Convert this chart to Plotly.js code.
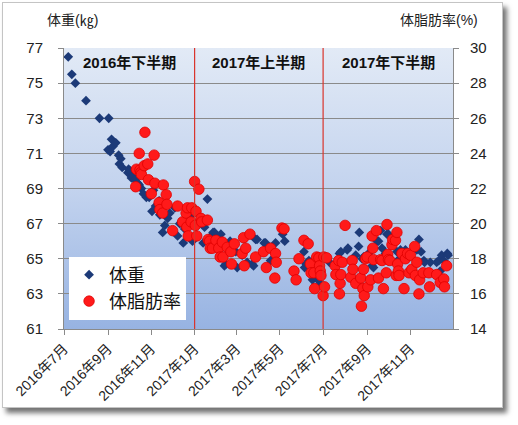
<!DOCTYPE html>
<html>
<head>
<meta charset="utf-8">
<script src="https://cdn.plot.ly/plotly-3.0.1.min.js"></script>
<style>
  html, body { margin:0; padding:0; background:#ffffff; }
  #frame { position:absolute; left:2px; top:2px; width:499px; height:404px;
           border:1px solid #c4c4c4; background:#ffffff;
           box-shadow: 4px 5px 5px rgba(0,0,0,0.55); }
  #chart { position:absolute; left:0; top:0; width:518px; height:425px; }
</style>
</head>
<body>
<div id="frame"></div>
<div id="chart"></div>
<script>
// ---- data ----
const weightName = '体重';
const fatName = '体脂肪率';

const weightDates = [
  '2016-07-07','2016-07-12','2016-07-17','2016-08-01','2016-08-20',
  '2016-09-02','2016-09-01','2016-09-04','2016-09-06','2016-09-08','2016-09-12','2016-09-16','2016-09-17','2016-09-19','2016-09-21','2016-09-29','2016-09-30',
  '2016-10-02','2016-10-04','2016-10-05','2016-10-09','2016-10-13','2016-10-15','2016-10-18','2016-10-21','2016-10-25','2016-10-29',
  '2016-11-02','2016-11-04','2016-11-07','2016-11-12','2016-11-13','2016-11-17','2016-11-20','2016-11-24','2016-11-27',
  '2016-12-04','2016-12-08','2016-12-11','2016-12-16','2016-12-18','2016-12-25','2016-12-29',
  '2017-01-08','2017-01-13','2017-01-15','2017-01-19','2017-01-22','2017-01-27','2017-01-29',
  '2017-02-05','2017-02-06','2017-02-07','2017-02-12','2017-02-14','2017-02-20','2017-02-28',
  '2017-03-02','2017-03-09','2017-03-16','2017-03-23','2017-03-25','2017-03-28','2017-03-30',
  '2017-04-09','2017-04-11','2017-04-18','2017-04-25',
  '2017-05-05','2017-05-08',
  '2017-06-04','2017-06-05','2017-06-07','2017-06-09','2017-06-11','2017-06-16','2017-06-21','2017-06-22','2017-06-26','2017-06-28',
  '2017-07-10','2017-07-24','2017-07-26',
  '2017-08-04','2017-08-05','2017-08-16','2017-08-20','2017-08-21','2017-08-25','2017-08-27',
  '2017-09-03','2017-09-08','2017-09-10','2017-09-15','2017-09-17','2017-09-20','2017-09-22','2017-09-27','2017-09-29',
  '2017-10-01','2017-10-06','2017-10-13','2017-10-14','2017-10-18','2017-10-25','2017-10-30',
  '2017-11-10','2017-11-13','2017-11-16','2017-11-20','2017-11-21','2017-11-29',
  '2017-12-08','2017-12-11','2017-12-13','2017-12-15','2017-12-18','2017-12-23','2017-12-24'
];
const weightValues = [
  76.5,75.5,75.0,74.0,73.0,
  73.0,71.2,71.1,71.8,71.4,71.6,70.9,70.4,70.7,70.2,69.9,70.1,
  70.0,69.6,69.7,69.5,69.3,69.2,69.0,68.7,68.5,68.5,
  67.7,68.9,68.0,68.3,67.5,66.5,66.9,67.3,67.6,
  67.9,66.3,67.0,65.9,66.7,67.4,66.0,
  67.1,65.9,66.8,68.4,66.2,66.5,66.5,
  65.6,65.2,66.4,64.6,64.7,66.0,65.4,
  64.5,65.2,64.8,64.7,64.6,66.1,66.1,
  65.9,65.9,64.9,65.9,
  66.4,66.0,
  65.4,64.5,64.7,64.5,64.9,63.8,64.0,63.9,63.7,63.6,
  64.8,65.3,65.4,
  65.5,65.6,65.2,65.7,66.5,65.0,65.1,
  65.3,64.6,64.5,66.0,66.0,66.6,65.6,65.3,66.4,
  66.4,65.8,65.4,64.9,65.5,65.5,65.2,
  65.5,66.1,65.4,64.9,64.8,64.8,
  64.8,64.9,64.3,65.2,64.9,65.3,65.2
];

const fatDates = [
  '2016-10-10','2016-10-11','2016-10-15','2016-10-16','2016-10-17','2016-10-18','2016-10-22','2016-10-23','2016-10-27','2016-10-28',
  '2016-11-01','2016-11-05','2016-11-06','2016-11-12','2016-11-13','2016-11-17','2016-11-18','2016-11-22','2016-11-23',
  '2016-12-01','2016-12-08','2016-12-15','2016-12-20','2016-12-21','2016-12-22','2016-12-23','2016-12-27','2016-12-28',
  '2017-01-01','2017-01-02','2017-01-03','2017-01-04','2017-01-07','2017-01-10','2017-01-11','2017-01-19','2017-01-20','2017-01-22','2017-01-23','2017-01-26','2017-01-31',
  '2017-02-04','2017-02-06','2017-02-09','2017-02-10','2017-02-16','2017-02-21','2017-02-22','2017-02-26',
  '2017-03-09','2017-03-11','2017-03-12','2017-03-14','2017-03-20','2017-03-28',
  '2017-04-08','2017-04-12','2017-04-18','2017-04-24','2017-04-25','2017-04-26',
  '2017-05-04','2017-05-07','2017-05-21','2017-05-24','2017-05-28',
  '2017-06-04','2017-06-10','2017-06-13','2017-06-14','2017-06-18','2017-06-19','2017-06-22','2017-06-25','2017-06-26','2017-06-27','2017-06-28',
  '2017-07-01','2017-07-02','2017-07-03','2017-07-06','2017-07-18','2017-07-19','2017-07-23','2017-07-24','2017-07-25','2017-07-26','2017-07-28',
  '2017-08-01','2017-08-09','2017-08-11','2017-08-12','2017-08-16','2017-08-23','2017-08-24','2017-08-26','2017-08-27','2017-08-28','2017-08-30',
  '2017-09-01','2017-09-02','2017-09-06','2017-09-08','2017-09-09','2017-09-10','2017-09-14','2017-09-17','2017-09-20','2017-09-22','2017-09-24','2017-09-28','2017-09-29','2017-09-30',
  '2017-10-01','2017-10-03','2017-10-06','2017-10-07','2017-10-11','2017-10-12','2017-10-13','2017-10-14','2017-10-15','2017-10-16','2017-10-20','2017-10-23','2017-10-25','2017-10-28','2017-10-30',
  '2017-11-01','2017-11-03','2017-11-07','2017-11-08','2017-11-10','2017-11-13','2017-11-14','2017-11-19','2017-11-27','2017-11-28',
  '2017-12-08','2017-12-13','2017-12-18','2017-12-19','2017-12-22'
];
const fatValues = [
  22.1,23.1,24.0,23.05,22.9,22.8,23.3,25.2,23.4,22.5,
  21.7,23.9,22.3,21.2,20.8,20.6,22.2,21.65,21.1,
  19.6,21.0,20.1,20.6,19.8,20.9,19.3,20.1,20.9,
  22.4,19.9,20.7,19.3,21.96,20.3,20.1,20.2,19.1,19.0,18.6,18.6,19.05,
  18.6,18.1,18.95,18.1,18.65,18.4,17.7,18.85,
  18.3,19.2,17.6,18.6,19.4,18.1,
  18.4,17.5,18.6,16.9,18.3,17.8,
  19.75,19.7,17.3,16.8,18.0,
  19.05,18.85,17.7,17.2,17.2,16.3,18.1,18.05,17.6,17.3,17.05,
  15.9,18.1,16.4,18.05,17.6,17.1,17.9,16.0,16.6,17.1,17.8,
  19.9,16.95,17.9,17.4,16.6,16.9,15.3,16.3,17.4,15.9,18.0,
  18.1,16.4,16.8,19.3,18.6,17.95,19.6,16.9,17.95,17.9,16.3,17.2,19.95,18.25,
  17.95,17.9,18.8,19.1,19.05,17.05,19.5,17.7,17.3,17.05,18.3,16.3,18.0,18.3,17.2,
  18.2,17.4,18.7,17.05,17.8,16.0,16.8,17.2,17.2,16.4,
  17.1,16.65,16.85,16.4,17.6
];

const tickDates = ['2016-07-01','2016-09-01','2016-11-01','2017-01-01','2017-03-01','2017-05-01','2017-07-01','2017-09-01','2017-11-01'];
const tickLabels = ['2016年7月','2016年9月','2016年11月','2017年1月','2017年3月','2017年5月','2017年7月','2017年9月','2017年11月'];
const xRange = ['2016-07-01','2017-12-31'];
const periodBounds = ['2017-01-01','2017-07-01'];
const periodCenters = ['2016-10-01','2017-04-01','2017-10-01'];
const periodLabels = ['2016年下半期','2017年上半期','2017年下半期'];
const leftRange = [61, 77];
const rightRange = [14, 30];
const leftTitle = '体重(㎏)';
const rightTitle = '体脂肪率(%)';

// ---- chart ----
const FONT = 'Liberation Sans, Arial, "Noto Sans CJK JP", sans-serif';
const gridCol = '#8a8a8a';

const grad = 'data:image/svg+xml;charset=utf-8,' + encodeURIComponent(
  '<svg xmlns="http://www.w3.org/2000/svg" width="10" height="100" preserveAspectRatio="none">' +
  '<defs><linearGradient id="g" x1="0" y1="0" x2="0" y2="1">' +
  '<stop offset="0" stop-color="#e2eaf6"/><stop offset="0.5" stop-color="#c3d3ee"/><stop offset="1" stop-color="#97b3e2"/>' +
  '</linearGradient></defs><rect width="10" height="100" fill="url(#g)"/></svg>');

const traces = [
  {
    type:'scatter', mode:'markers', name: weightName,
    x: weightDates, y: weightValues, xaxis:'x', yaxis:'y',
    marker:{symbol:'diamond', size:7.5, color:'#1c3a78', line:{width:0}}
  },
  {
    type:'scatter', mode:'markers', name: fatName,
    x: fatDates, y: fatValues, xaxis:'x', yaxis:'y2',
    marker:{symbol:'circle', size:10.5, color:'#ff1a1a', line:{width:0.8, color:'#e00000'}}
  }
];

const shapes = periodBounds.map(d => ({
  type:'line', xref:'x', yref:'paper', x0:d, x1:d, y0:0, y1:1,
  line:{color:'#d9342b', width:1.2}, layer:'above'
}));

const annotations = periodLabels.map((t,i) => ({
  text:'<b>'+t+'</b>', xref:'x', yref:'paper', x:periodCenters[i], y:0.948,
  xanchor:'center', yanchor:'middle', showarrow:false,
  font:{family:FONT, size:15, color:'#111111'}
}));
annotations.push({
  text:leftTitle, xref:'paper', yref:'paper', x:-0.05, y:1.099,
  xanchor:'left', yanchor:'middle', showarrow:false,
  font:{family:FONT, size:14, color:'#222222'}
});
annotations.push({
  text:rightTitle, xref:'paper', yref:'paper', x:1.07, y:1.099,
  xanchor:'right', yanchor:'middle', showarrow:false,
  font:{family:FONT, size:14, color:'#222222'}
});

const layout = {
  width:518, height:425,
  margin:{l:64, r:65, t:48, b:96, pad:0},
  paper_bgcolor:'rgba(0,0,0,0)',
  plot_bgcolor:'rgba(0,0,0,0)',
  font:{family:FONT, color:'#222222'},
  showlegend:true,
  legend:{
    x:0.013, y:0.258, xanchor:'left', yanchor:'top',
    bgcolor:'#ffffff', borderwidth:0,
    font:{family:FONT, size:18, color:'#111111'},
    tracegroupgap:0, itemwidth:30
  },
  images:[{
    source:grad, xref:'paper', yref:'paper', x:0, y:1, sizex:1, sizey:1,
    xanchor:'left', yanchor:'top', sizing:'stretch', layer:'below'
  }],
  xaxis:{
    type:'date', range:xRange, tickmode:'array', tickvals:tickDates, ticktext:tickLabels,
    tickangle:-45, ticks:'outside', ticklen:5, tickcolor:gridCol,
    showline:true, linecolor:gridCol, linewidth:1, showgrid:false, zeroline:false,
    tickfont:{family:FONT, size:14, color:'#222222'}, mirror:false
  },
  yaxis:{
    range:leftRange, dtick:2, tick0:61, ticks:'outside', ticklen:5, tickcolor:gridCol,
    showline:true, linecolor:gridCol, linewidth:1,
    showgrid:true, gridcolor:gridCol, gridwidth:1, zeroline:false,
    tickfont:{family:FONT, size:15, color:'#222222'}, ticklabelstandoff:12
  },
  yaxis2:{
    range:rightRange, dtick:2, tick0:14, overlaying:'y', side:'right',
    ticks:'outside', ticklen:5, tickcolor:gridCol,
    showline:true, linecolor:gridCol, linewidth:1,
    showgrid:false, zeroline:false,
    tickfont:{family:FONT, size:15, color:'#222222'}, ticklabelstandoff:8
  },
  shapes:shapes,
  annotations:annotations
};

Plotly.newPlot('chart', traces, layout, {displayModeBar:false, staticPlot:true});
</script>
</body>
</html>
